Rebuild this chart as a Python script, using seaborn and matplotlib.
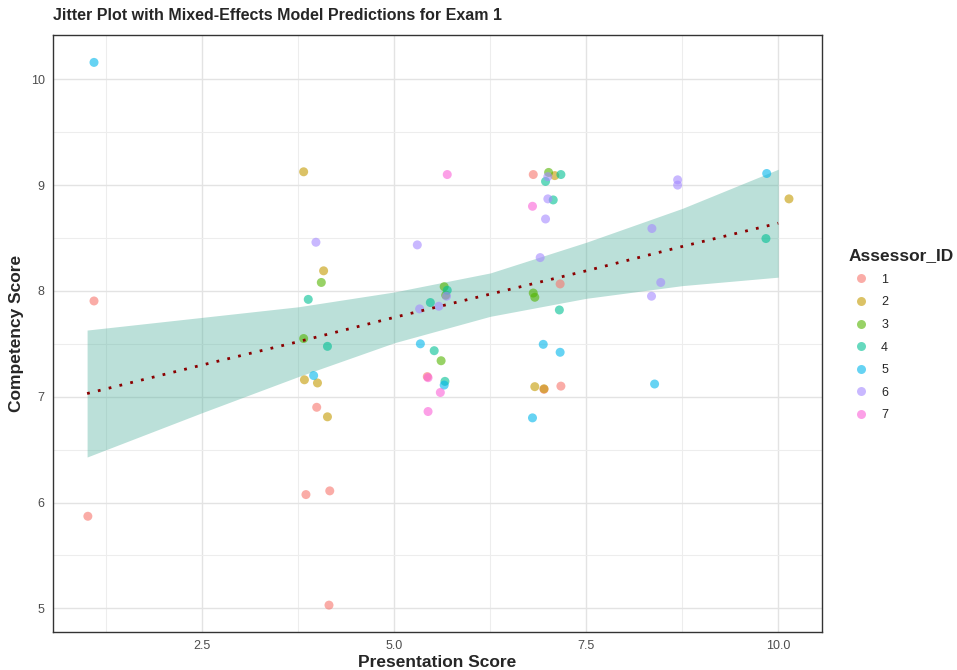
import numpy as np
import pandas as pd
import seaborn as sns
import matplotlib.pyplot as plt
from matplotlib.ticker import MultipleLocator, FixedLocator

# ── Data ──────────────────────────────────────────────────────────────────────
presentation = [1.09, 1.01, 3.99, 3.85, 4.16, 4.15, 6.81, 7.16, 6.95, 7.17, 5.43,
                3.82, 4.08, 3.83, 4.00, 4.13, 7.09, 6.83, 6.95, 10.14,
                4.05, 3.82, 5.65, 5.67, 5.61, 7.01, 6.81, 6.83,
                3.88, 4.13, 5.69, 5.47, 5.52, 5.66, 7.17, 6.97, 7.07, 7.15, 9.84,
                1.09, 3.95, 5.34, 5.65, 6.94, 7.16, 6.80, 9.85, 8.39,
                3.98, 5.30, 5.33, 5.58, 5.68, 7.00, 6.97, 6.90, 8.69, 8.69, 8.355, 8.47, 8.35, 7.00,
                5.69, 5.60, 5.44, 5.44, 6.80]
competency = [7.905, 5.87, 6.90, 6.075, 6.11, 5.03, 9.10, 8.066, 7.07, 7.10, 7.19,
              9.126, 8.19, 7.16, 7.13, 6.81, 9.09, 7.095, 7.075, 8.87,
              8.08, 7.55, 8.04, 7.96, 7.34, 9.12, 7.98, 7.94,
              7.92, 7.476, 8.006, 7.89, 7.435, 7.145, 9.10, 9.035, 8.86, 7.82, 8.495,
              10.16, 7.20, 7.50, 7.11, 7.495, 7.42, 6.80, 9.11, 7.12,
              8.46, 8.435, 7.83, 7.855, 7.95, 8.87, 8.68, 8.315, 9.05, 9.00, 8.59, 8.08, 7.95, 9.08,
              9.10, 7.04, 6.86, 7.18, 8.80]
assessor = (["1"] * 11 + ["2"] * 9 + ["3"] * 8 + ["4"] * 11 +
            ["5"] * 9 + ["6"] * 14 + ["7"] * 5)

# model predictions and confidence band
pred_x     = [1.0, 2.5, 3.75, 5.0, 6.25, 7.5, 8.75, 10.0]
pred_y     = [7.03, 7.30, 7.52, 7.75, 7.97, 8.19, 8.42, 8.64]
pred_lower = [6.43, 6.85, 7.19, 7.51, 7.76, 7.93, 8.05, 8.13]
pred_upper = [7.63, 7.75, 7.85, 7.99, 8.17, 8.46, 8.78, 9.15]

df = pd.DataFrame({"Presentation": presentation,
                   "Competency": competency,
                   "Assessor_ID": assessor})
levels  = ["1", "2", "3", "4", "5", "6", "7"]
palette = ["#F8766D", "#C49A00", "#53B400", "#00C094", "#00B6EB", "#A58AFF", "#FB61D7"]

# ── Style ─────────────────────────────────────────────────────────────────────
sns.set_style("white")
plt.rcParams["font.family"] = ["Liberation Sans", "DejaVu Sans"]

fig, ax = plt.subplots(figsize=(9.57, 6.70), dpi=100)
fig.subplots_adjust(left=53/957, right=822/957, top=1-35/670, bottom=1-632/670)

ax.fill_between(pred_x, pred_lower, pred_upper, color="#55B3A0", alpha=0.4,
                linewidth=0, zorder=1)
sns.scatterplot(data=df, x="Presentation", y="Competency", hue="Assessor_ID",
                hue_order=levels, palette=palette, s=42, alpha=0.6,
                linewidth=0, ax=ax, zorder=2)
sns.lineplot(x=pred_x, y=pred_y, color="#8B0000", linewidth=2.0,
             linestyle=(0, (1, 3.0)), ax=ax, zorder=3)

ax.set_xlim(0.556, 10.57)
ax.set_ylim(4.776, 10.419)
ax.xaxis.set_major_locator(FixedLocator([2.5, 5.0, 7.5, 10.0]))
ax.set_xticklabels(["2.5", "5.0", "7.5", "10.0"])
ax.xaxis.set_minor_locator(FixedLocator([1.25, 3.75, 6.25, 8.75]))
ax.yaxis.set_major_locator(MultipleLocator(1))
ax.yaxis.set_minor_locator(FixedLocator([5.5, 6.5, 7.5, 8.5, 9.5]))

ax.grid(which="major", color="#E3E3E3", linewidth=1.0, zorder=0)
ax.grid(which="minor", color="#EDEDED", linewidth=0.8, zorder=0)
ax.set_axisbelow(True)
for sp in ax.spines.values():
    sp.set_color("#333333")
    sp.set_linewidth(1.0)
ax.tick_params(axis="both", which="major", length=3, width=0.7, color="#333333",
               labelsize=9, labelcolor="#4D4D4D", pad=3)
ax.tick_params(axis="both", which="minor", length=0)

ax.set_xlabel("Presentation Score", fontsize=12.5, weight="bold", labelpad=2)
ax.set_ylabel("Competency Score", fontsize=12.5, weight="bold", labelpad=5)
ax.set_title("Jitter Plot with Mixed-Effects Model Predictions for Exam 1",
             fontsize=11.5, weight="bold", loc="left", pad=11)

leg = ax.legend(title="Assessor_ID", frameon=False, loc="upper left",
                bbox_to_anchor=(1.02, 0.662), fontsize=9, title_fontsize=12.5,
                labelspacing=0.85, handletextpad=0.6, markerscale=1.0,
                alignment="left")
leg.get_title().set_fontweight("bold")
for h in leg.legend_handles:
    h.set_alpha(0.6)

plt.savefig("out.png", dpi=100)
